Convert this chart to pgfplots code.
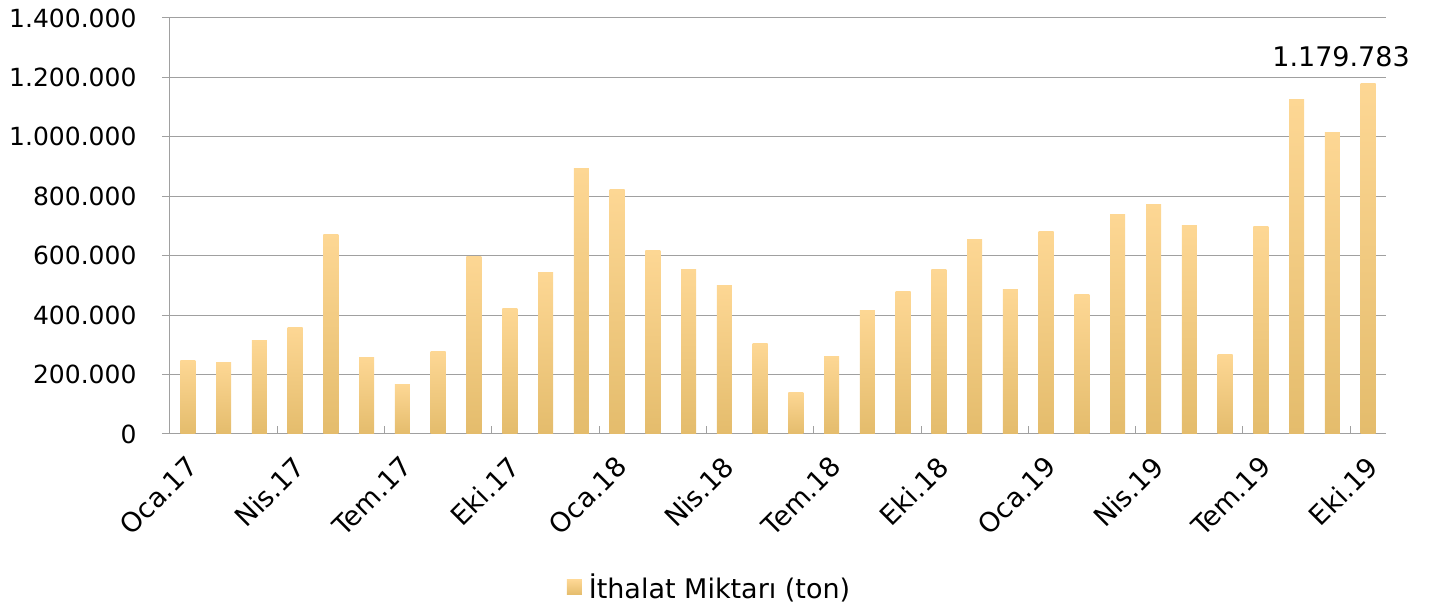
\documentclass[border=0pt]{standalone}
\usepackage{pgfplots}
\pgfplotsset{compat=1.18}
\usepackage{fontspec}
\setmainfont{DejaVu Sans}
\definecolor{bartop}{HTML}{FDD794}
\definecolor{barmid}{HTML}{FDD281}
\definecolor{barbot}{HTML}{E4BC6C}
\definecolor{gridc}{HTML}{A0A0A0}
\pgfplotsset{onebar/.style={draw=none, top color=bartop, middle color=barmid, bottom color=barbot, bar shift=0pt, bar width=15pt}}
\newcommand\onebar[2]{\addplot[onebar, forget plot] coordinates {(#1,#2)};}
\begin{document}
\fontsize{25}{30}\selectfont
\begin{tikzpicture}[x=1pt,y=1pt]
\path[use as bounding box] (-170,-176) rectangle (1260,434);
\begin{axis}[
  at={(0,0)}, anchor=south west,
  scale only axis, width=1216pt, height=416pt,
  xmin=-0.5, xmax=33.5, ymin=0, ymax=1400000,
  ybar, clip=false,
  axis lines*=left,
  axis line style={gridc, line width=1pt, -},
  ytick={0,200000,...,1400000},
  ymajorgrids, grid style={gridc, line width=1pt},
  ytick pos=left,
  major y tick style={draw=gridc, line width=1pt},
  ytick align=outside,
  major tick length=8pt,
  scaled y ticks=false,
  /pgf/number format/fixed,
  /pgf/number format/1000 sep={.},
  /pgf/number format/assume math mode=true,
  yticklabel style={xshift=-17pt, font=\fontsize{25}{30}\selectfont},
  xtick={0,3,...,33},
  xticklabels={Oca.17,Nis.17,Tem.17,Eki.17,Oca.18,Nis.18,Tem.18,Eki.18,Oca.19,Nis.19,Tem.19,Eki.19},
  major x tick style={draw=none},
  minor xtick={-0.5,2.5,...,32.5},
  minor x tick style={gridc, line width=1pt},
  minor tick length=8pt,
  xtick align=inside,
  xticklabel style={rotate=45, anchor=north east, font=\fontsize{27}{32}\selectfont, yshift=-4pt, xshift=-8pt},
  legend style={at={(0.4437,-0.37)}, anchor=center, draw=none, fill=none, font=\fontsize{27}{32}\selectfont},
  legend image code/.code={\fill[top color=bartop, middle color=barmid, bottom color=barbot] (0pt,-7pt) rectangle (15pt,8pt); \path (15pt,0pt) -- (20pt,0pt);},
]
\addplot[onebar] coordinates {(0,246000)};
\addlegendentry{İthalat Miktarı (ton)}
\onebar{1}{239000}
\onebar{2}{316000}
\onebar{3}{360000}
\onebar{4}{673000}
\onebar{5}{256000}
\onebar{6}{165000}
\onebar{7}{276000}
\onebar{8}{599000}
\onebar{9}{421000}
\onebar{10}{545000}
\onebar{11}{895000}
\onebar{12}{824000}
\onebar{13}{616000}
\onebar{14}{552000}
\onebar{15}{501000}
\onebar{16}{303000}
\onebar{17}{141000}
\onebar{18}{262000}
\onebar{19}{414000}
\onebar{20}{481000}
\onebar{21}{552000}
\onebar{22}{656000}
\onebar{23}{485000}
\onebar{24}{680000}
\onebar{25}{468000}
\onebar{26}{740000}
\onebar{27}{774000}
\onebar{28}{703000}
\onebar{29}{269000}
\onebar{30}{697000}
\onebar{31}{1127000}
\onebar{32}{1016000}
\onebar{33}{1179783}
\node[anchor=south, xshift=-27pt, yshift=16pt, inner sep=0pt, font=\fontsize{27}{32}\selectfont] at (axis cs:33,1179783) {1.179.783};
\end{axis}
\end{tikzpicture}
\end{document}
